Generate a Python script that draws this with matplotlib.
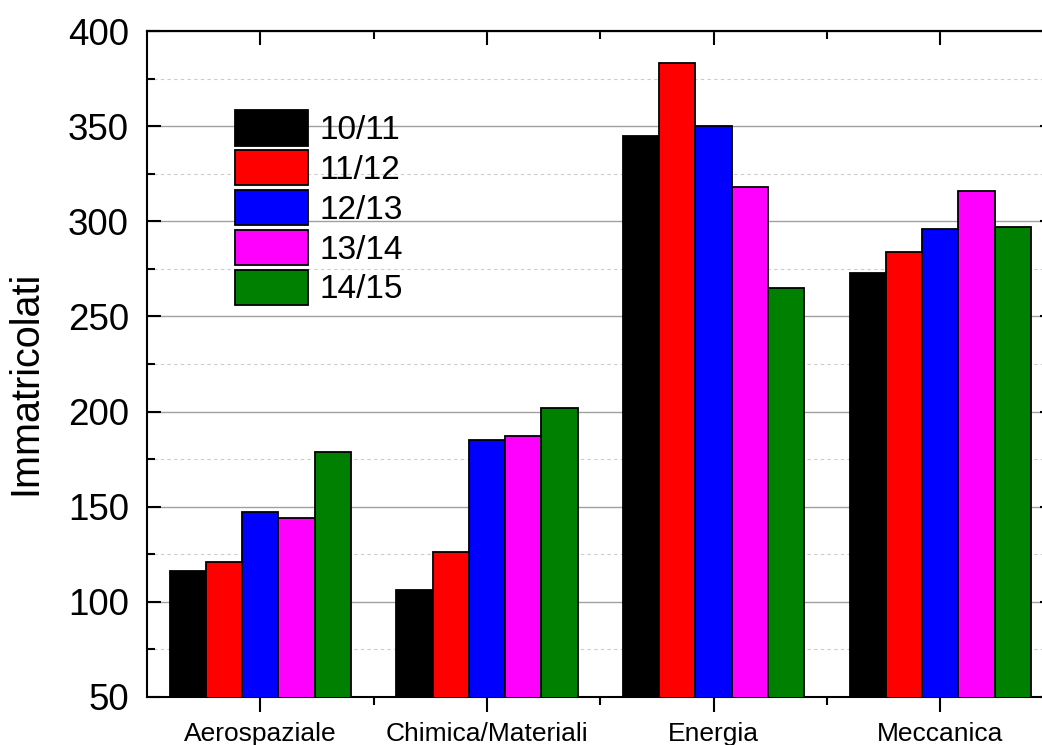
import numpy as np
import matplotlib
matplotlib.use("Agg")
import matplotlib.pyplot as plt
from matplotlib.ticker import MultipleLocator, FixedLocator

# =====================================================
# Data
# =====================================================

categories = ["Aerospaziale", "Chimica/Materiali", "Energia", "Meccanica"]
years = ["10/11", "11/12", "12/13", "13/14", "14/15"]

v_10_11 = [116, 106, 345, 273]
v_11_12 = [121, 126, 383, 284]
v_12_13 = [147, 185, 350, 296]
v_13_14 = [144, 187, 318, 316]
v_14_15 = [179, 202, 265, 297]

series = [v_10_11, v_11_12, v_12_13, v_13_14, v_14_15]
colors = ["#000000", "#FF0000", "#0000FF", "#FF00FF", "#008000"]

plt.rcParams["font.family"] = ["Liberation Sans", "DejaVu Sans"]

# =====================================================
# Figure / axes (right edge of the plot is cropped off)
# =====================================================

W, H = 1042, 745
fig = plt.figure(figsize=(W / 100, H / 100), dpi=100)
ax_left, ax_right = 147, 1053.5
ax_top, ax_bottom = 31, 697
ax = fig.add_axes([ax_left / W, 1 - ax_bottom / H,
                   (ax_right - ax_left) / W, (ax_bottom - ax_top) / H])

x = np.arange(1, len(categories) + 1)
bar_w = 0.16

for i, (vals, col, lab) in enumerate(zip(series, colors, years)):
    offset = (i - 2) * bar_w
    ax.bar(x + offset, vals, width=bar_w, color=col, edgecolor="black",
           linewidth=1.3, label=lab, zorder=3)

ax.set_xlim(0.5, 4.5)
ax.set_ylim(50, 400)

ax.set_xticks(x)
ax.set_xticklabels(categories, fontsize=19)
ax.xaxis.set_minor_locator(FixedLocator([1.5, 2.5, 3.5]))
ax.yaxis.set_major_locator(MultipleLocator(50))
ax.yaxis.set_minor_locator(MultipleLocator(25))

ax.tick_params(axis="y", which="major", direction="in", length=10, width=1.5,
               labelsize=26.5, right=True, pad=13)
ax.tick_params(axis="y", which="minor", direction="in", length=6, width=1.5,
               right=True)
ax.tick_params(axis="x", which="major", direction="out", length=11, width=1.5,
               labelsize=19, pad=7)
ax.tick_params(axis="x", which="minor", direction="out", length=6, width=1.5)

# top ticks pointing inward
top = ax.secondary_xaxis("top")
top.set_xticks(x)
top.set_xticklabels([])
top.xaxis.set_minor_locator(FixedLocator([1.5, 2.5, 3.5]))
top.tick_params(which="major", direction="in", length=10, width=1.5)
top.tick_params(which="minor", direction="in", length=6, width=1.5)
top.spines["top"].set_linewidth(1.5)

for s in ax.spines.values():
    s.set_linewidth(1.5)

ax.grid(axis="y", which="major", color="#a0a0a0", linewidth=1.0, zorder=0)
ax.grid(axis="y", which="minor", color="#cccccc", linewidth=0.8,
        linestyle=(0, (3, 3)), zorder=0)
ax.set_axisbelow(True)

ax.set_ylabel("Immatricolati", fontsize=28.5)
ax.yaxis.set_label_coords(-0.113, 0.471)

# =====================================================
# Legend
# =====================================================

fs = 24
ax.legend(loc="upper left", bbox_to_anchor=(0.097, 0.881), frameon=False,
          fontsize=fs, handlelength=2.2, handleheight=1.25, labelspacing=0.12,
          handletextpad=0.35, borderpad=0, borderaxespad=0)

plt.savefig("out.png", dpi=100)
